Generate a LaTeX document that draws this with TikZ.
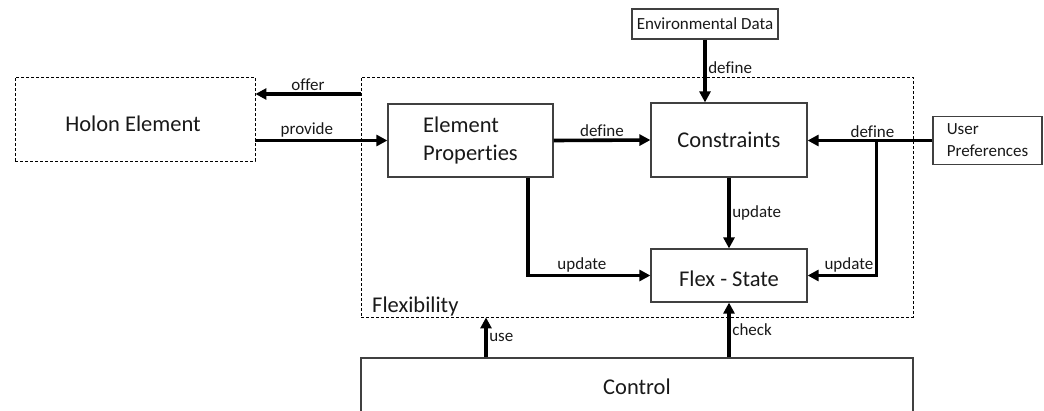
\documentclass[tikz,border=0pt]{standalone}
\usepackage{fontspec}
\setmainfont{Carlito}[Ligatures={NoCommon}]
\usetikzlibrary{arrows.meta,calc}
\begin{document}
\begin{tikzpicture}[x=1pt,y=-1pt,
  box/.style={draw=black!75, line width=1.2pt, rectangle, inner sep=0pt, align=center},
  dbox/.style={draw=black, line width=0.9pt, dash pattern=on 3pt off 2pt, rectangle, inner sep=0pt},
  big/.style={font=\fontsize{22.5}{27.5}\selectfont, text=black!90},
  small/.style={font=\fontsize{17}{22}\selectfont, text=black!90},
  arr/.style={line width=3.6pt, -{Triangle[length=11pt,width=11pt]}},
  lab/.style={font=\fontsize{17}{20}\selectfont, text=black!90, inner sep=1.5pt}]

\clip (0,0) rectangle (1044,410);

% boxes
\node[dbox, minimum width=240pt, minimum height=84pt] (holon) at (135,119) {};
\node[big] (holontxt) at (133,124) {Holon Element};
\node[dbox, minimum width=552pt, minimum height=240pt] (flexbox) at (637,197) {};
\node[big, anchor=base west, inner sep=0pt] (flexlbl) at (372,312) {Flexibility};

\node[box, small, minimum width=146pt, minimum height=30pt] (env) at (705,24) {Environmental Data};
\node[box, big, align=left, minimum width=165pt, minimum height=73pt] (ep) at (470.5,140.5) {Element\\Properties};
\node[box, big, minimum width=156pt, minimum height=74pt] (cons) at (729,140) {Constraints};
\node[box, minimum width=156pt, minimum height=53pt] (fs) at (729,275.5) {};
\node[big] (fstxt) at (729,279) {Flex - State};
\node[box, small, align=left, minimum width=109pt, minimum height=48pt] (up) at (987.5,140.5) {User\\Preferences};
\node[box, big, minimum width=552pt, minimum height=58pt] (ctrl) at (637,387) {Control};

% connectors
\coordinate (offerA) at ($(holon.east)+(0,-25)$);
\draw[arr] (offerA -| flexbox.west) -- node[lab,above,pos=0.5] (loffer) {offer} (offerA);
\draw[arr] (holon.east |- ep.west) -- node[lab,above,pos=0.39] (lprovide) {provide} (ep.west);
\draw[arr] (ep.east) -- node[lab,above] (ldef1) {define} (cons.west);
\draw[arr] (env.south) -- node[lab,right,pos=0.45] (ldef2) {define} (env.south |- cons.north);
\draw[arr] (up.west) -- node[lab,above,pos=0.48] (ldef3) {define} (up.west -| cons.east);
\coordinate (br) at ($(up.west)+(-56,0)$);
\draw[arr] (br) |- node[lab,above,pos=0.7] (lupd3) {update} (fs.east);
\draw[arr] (cons.south) -- node[lab,right] (lupd1) {update} (fs.north);
\draw[arr] ([xshift=57.5pt]ep.south) |- node[lab,above,pos=0.72] (lupd2) {update} (fs.west);
\draw[arr] ([xshift=-151pt]ctrl.north) -- node[lab,right,pos=0.5] (luse) {use} ([xshift=-151pt]ctrl.north |- flexbox.south);
\draw[arr] (ctrl.north -| fs.south) -- node[lab,right] (lcheck) {check} (fs.south);
\end{tikzpicture}
\end{document}
